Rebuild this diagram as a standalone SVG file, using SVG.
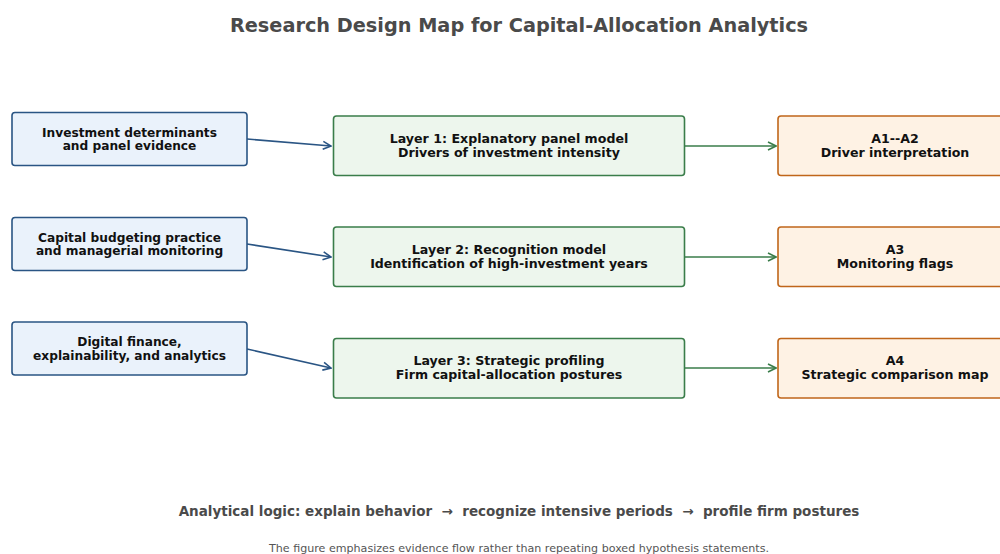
<svg xmlns="http://www.w3.org/2000/svg" width="1000" height="554" viewBox="0 0 1000 554">
<defs>
<style>
text{font-family:"DejaVu Sans","Liberation Sans",sans-serif;text-anchor:middle}
.t{font-size:12.6px;font-weight:bold;fill:#111}
.src .t{font-size:12.2px}
.src rect{fill:#eaf2fb;stroke:#2a5584;stroke-width:1.6}
.mid rect{fill:#edf6ed;stroke:#3a7d4a;stroke-width:1.6}
.out rect{fill:#fef2e4;stroke:#c0661a;stroke-width:1.6}
.cb{stroke:#2a5584;stroke-width:1.6;fill:none}
.cg{stroke:#3a7d4a;stroke-width:1.6;fill:none}
</style>
<marker id="ab" viewBox="0 0 10 10" refX="9" refY="5" markerWidth="10" markerHeight="10" markerUnits="userSpaceOnUse" orient="auto"><path d="M1,1 L9,5 L1,9" fill="none" stroke="#2a5584" stroke-width="1.6"/></marker>
<marker id="ag" viewBox="0 0 10 10" refX="9" refY="5" markerWidth="10" markerHeight="10" markerUnits="userSpaceOnUse" orient="auto"><path d="M1,1 L9,5 L1,9" fill="none" stroke="#3a7d4a" stroke-width="1.6"/></marker>
</defs>
<rect width="1000" height="554" fill="#fff"/>
<text x="519" y="32" style="font-size:19.3px;font-weight:bold;fill:#4a4a4a">Research Design Map for Capital-Allocation Analytics</text>
<g id="connectors">
<path class="cb" d="M247,139 L331,146" marker-end="url(#ab)"/>
<path class="cb" d="M247,244 L331,257" marker-end="url(#ab)"/>
<path class="cb" d="M247,349 L331,368" marker-end="url(#ab)"/>
<path class="cg" d="M685,146 L776,146" marker-end="url(#ag)"/>
<path class="cg" d="M685,257 L776,257" marker-end="url(#ag)"/>
<path class="cg" d="M685,368 L776,368" marker-end="url(#ag)"/>
</g>
<g id="s1" class="src"><rect x="12" y="112.5" width="235" height="53" rx="3"/><text class="t" x="129.5" y="136.5">Investment determinants</text><text class="t" x="129.5" y="150">and panel evidence</text></g>
<g id="s2" class="src"><rect x="12" y="217.5" width="235" height="53" rx="3"/><text class="t" x="129.5" y="241.5">Capital budgeting practice</text><text class="t" x="129.5" y="255">and managerial monitoring</text></g>
<g id="s3" class="src"><rect x="12" y="322" width="235" height="53" rx="3"/><text class="t" x="129.5" y="346">Digital finance,</text><text class="t" x="129.5" y="359.5">explainability, and analytics</text></g>
<g id="m1" class="mid"><rect x="333.5" y="116" width="351" height="59.5" rx="3"/><text class="t" x="509" y="143">Layer 1: Explanatory panel model</text><text class="t" x="509" y="157">Drivers of investment intensity</text></g>
<g id="m2" class="mid"><rect x="333.5" y="227" width="351" height="59.5" rx="3"/><text class="t" x="509" y="254">Layer 2: Recognition model</text><text class="t" x="509" y="268">Identification of high-investment years</text></g>
<g id="m3" class="mid"><rect x="333.5" y="338.5" width="351" height="59.5" rx="3"/><text class="t" x="509" y="365">Layer 3: Strategic profiling</text><text class="t" x="509" y="379">Firm capital-allocation postures</text></g>
<g id="o1" class="out"><rect x="778" y="116" width="230" height="59.5" rx="3"/><text class="t" x="895" y="143">A1--A2</text><text class="t" x="895" y="157">Driver interpretation</text></g>
<g id="o2" class="out"><rect x="778" y="227" width="230" height="59.5" rx="3"/><text class="t" x="895" y="254">A3</text><text class="t" x="895" y="268">Monitoring flags</text></g>
<g id="o3" class="out"><rect x="778" y="338.5" width="230" height="59.5" rx="3"/><text class="t" x="895" y="365">A4</text><text class="t" x="895" y="379">Strategic comparison map</text></g>
<text x="519" y="516" style="font-size:13.5px;font-weight:bold;fill:#4a4a4a;white-space:pre" xml:space="preserve">Analytical logic: explain behavior  →  recognize intensive periods  →  profile firm postures</text>
<text x="519" y="552" style="font-size:11.1px;fill:#555">The figure emphasizes evidence flow rather than repeating boxed hypothesis statements.</text>
</svg>
